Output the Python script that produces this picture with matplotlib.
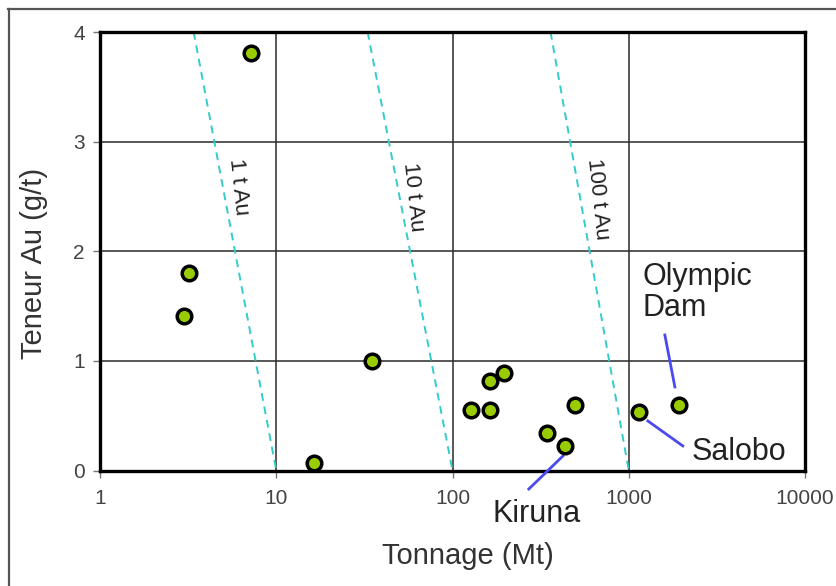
import matplotlib
matplotlib.use('Agg')
import matplotlib.pyplot as plt
from matplotlib.lines import Line2D

# Deposits: tonnage (Mt) and gold grade (g/t)
tonnage = [7.2, 3.2, 3.0, 35, 16.4, 127, 164, 163, 195, 344, 434, 497, 1145, 1930]
grade = [3.81, 1.80, 1.41, 1.00, 0.066, 0.55, 0.55, 0.82, 0.89, 0.34, 0.22, 0.60, 0.53, 0.60]

# Iso-metal guide lines
iso_labels = ['1 t Au', '10 t Au', '100 t Au']
iso_bottom = [10, 100, 1000]
iso_top = [3.4, 33, 360]
iso_label_x = [6.1, 60, 668]
iso_label_y = [2.59, 2.5, 2.48]

x_ticks = [1, 10, 100, 1000, 10000]
x_ticklabels = ['1', '10', '100', '1000', '10000']
y_ticks = [0, 1, 2, 3, 4]

# Named deposits: label, text position, leader start, leader end
named = [
    ('Olympic\nDam', (1202, 1.90), (1603, 1.236), (1827, 0.762), 'left', 'top'),
    ('Salobo', (2280, 0.172), (1283, 0.452), (2027, 0.224), 'left', 'center'),
    ('Kiruna', (169.5, -0.40), (271, -0.169), (423, 0.132), 'left', 'center'),
]

plt.rcParams['font.family'] = ['Liberation Sans', 'DejaVu Sans']

fig = plt.figure(figsize=(8.36, 5.86), dpi=100)
ax = fig.add_axes([100 / 836, 1 - 470.5 / 586, 705 / 836, 438.5 / 586])
ax.set_xscale('log')
ax.set_xlim(1, 10000)
ax.set_ylim(0, 4)

ax.set_xticks(x_ticks)
ax.set_xticklabels(x_ticklabels)
ax.xaxis.set_minor_locator(matplotlib.ticker.NullLocator())
ax.set_yticks(y_ticks)
ax.tick_params(axis='both', labelsize=15, labelcolor='#444444', color='#777777',
               length=5, width=1, direction='out')
ax.tick_params(axis='x', pad=8)
ax.tick_params(axis='y', pad=6)

ax.grid(True, color='#2a2a2a', linewidth=1.1)
ax.set_axisbelow(True)
for s in ax.spines.values():
    s.set_linewidth(2.4)
    s.set_color('black')

for lab, xb, xt, lx, ly in zip(iso_labels, iso_bottom, iso_top, iso_label_x, iso_label_y):
    ax.plot([xt, xb], [4, 0], color='#33cccc', linestyle=(0, (4, 3)), linewidth=1.4, zorder=2)
    ax.text(lx, ly, lab, rotation=-84, fontsize=16, color='#222222',
            ha='center', va='center', rotation_mode='anchor')

ax.plot(tonnage, grade, linestyle='none', marker='o', markersize=10.5,
        markerfacecolor='#99cc00', markeredgecolor='black', markeredgewidth=2.5,
        zorder=5, clip_on=False)

for lab, (tx, ty), (x0, y0), (x1, y1), ha, va in named:
    ax.plot([x0, x1], [y0, y1], color='#4a4af0', linewidth=2, clip_on=False, zorder=4)
    ax.text(tx, ty, lab, fontsize=22, color='#222222', ha=ha, va=va,
            linespacing=1.05, clip_on=False)

ax.set_xlabel('Tonnage (Mt)', fontsize=21, color='#333333')
ax.set_ylabel('Teneur Au (g/t)', fontsize=21, color='#333333')
ax.yaxis.set_label_coords(-66 / 705, (470.5 - 263) / 438.5)
ax.xaxis.set_label_coords((468 - 100) / 705, -(556 - 470.5) / 438.5)
ax.xaxis.label.set_va('center')
ax.yaxis.label.set_va('center')

# outer frame (top and left edges visible)
fig.add_artist(Line2D([8 / 836, 1], [1 - 9 / 586, 1 - 9 / 586], color='#555555', linewidth=1.6))
fig.add_artist(Line2D([9 / 836, 9 / 836], [1 - 9 / 586, 0], color='#555555', linewidth=1.6))

fig.savefig('out.png', dpi=100)
